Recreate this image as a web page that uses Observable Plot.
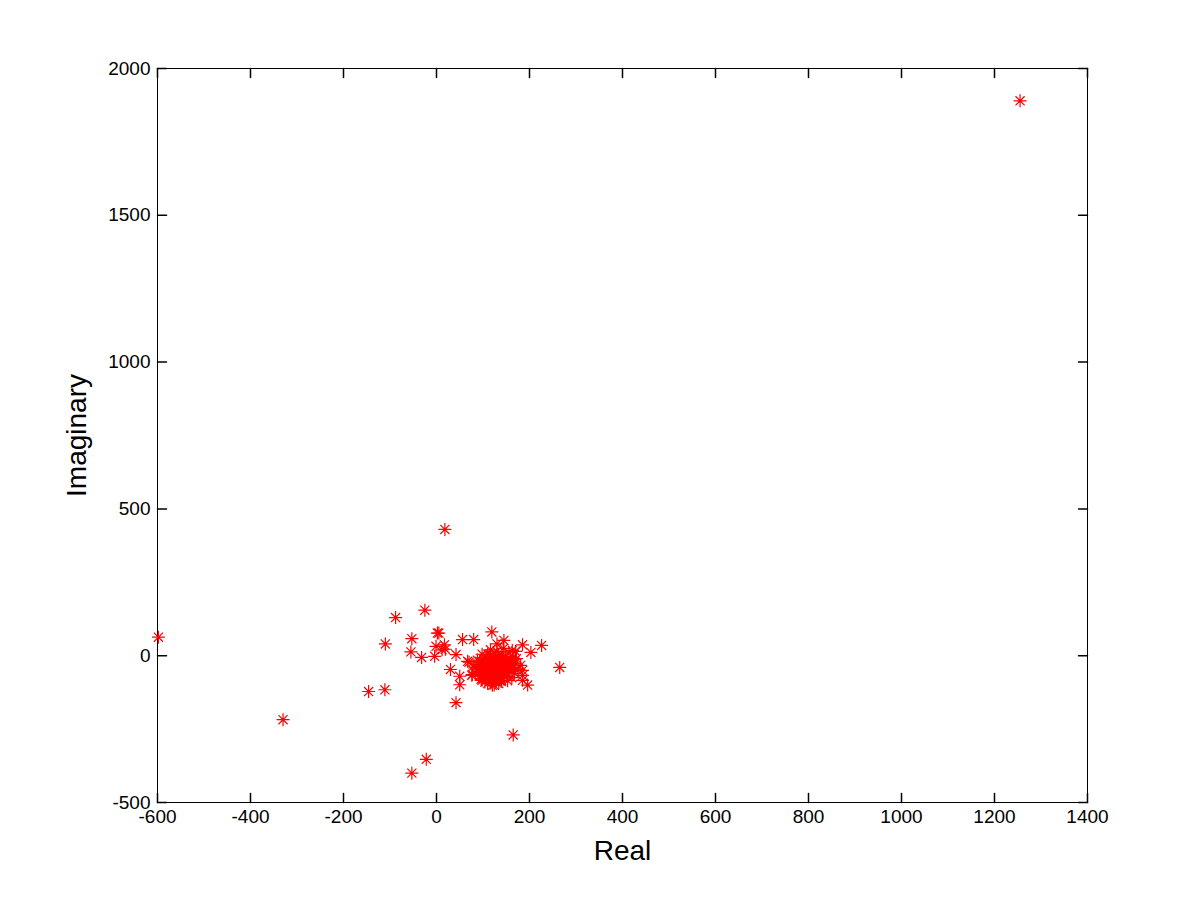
<!DOCTYPE html>
<html>
<head>
<meta charset="utf-8">
<script src="https://cdn.jsdelivr.net/npm/d3@7"></script>
<script src="https://cdn.jsdelivr.net/npm/@observablehq/plot@0.6"></script>
<style>
  html, body { margin: 0; padding: 0; background: #fff; }
  #chart { width: 1201px; height: 901px; }
</style>
</head>
<body>
<div id="chart"></div>
<script>
// Axis limits and ticks
const xDomain = [-600, 1400];
const yDomain = [-500, 2000];
const xTicks = [-600, -400, -200, 0, 200, 400, 600, 800, 1000, 1200, 1400];
const yTicks = [-500, 0, 500, 1000, 1500, 2000];
const xLabel = "Real";
const yLabel = "Imaginary";

// Real parts of the plotted values
const realParts = [
  1255, -598, -330, 18, -146, -111, -110, -88, -25, -53, -22, 165, 265, 42,
  -53, 2, 5, -55, -32, -4, -1, 12, 17, 19, 42, 56, 80, 119, 145, 30, 50, 50,
  76, 70, 185, 226, 203, 196, 185, 185, 185, 181, 67, 77, 120, 130, 170, 98,
  95, 100, 102, 105, 108, 110, 110, 112, 114, 115, 117, 118, 120, 120, 122, 123,
  125, 126, 127, 128, 130, 130, 132, 133, 135, 136, 138, 140, 140, 142, 143, 145,
  146, 148, 150, 150, 152, 155, 156, 158, 160, 162, 165, 165, 168, 170, 90, 88,
  92, 85, 98, 104, 116, 124, 134, 144, 153, 175, 172, 96, 106, 119, 131, 137,
  147, 113, 127, 141, 157, 102, 80, 83, 163, 110,
  93, 99, 101, 107, 109, 111, 116, 118, 121, 124, 126, 129, 131, 134, 137, 139,
  142, 144, 149, 151, 154, 159, 161, 104, 115, 128, 139, 152, 97, 133, 146, 122
];
// Imaginary parts of the plotted values
const imagParts = [
  1890, 63, -218, 430, -122, -116, 40, 130, 155, -400, -353, -270, -40, -160,
  58, 77, 77, 13, -6, -2, 32, 20, 37, 22, 4, 55, 55, 81, 52, -47, -70, -99,
  -67, -22, 37, 35, 11, -100, -84, -67, -50, -33, -19, -64, -101, 40, 15, -84,
  -30, -45, -10, -60, -25, 5, -75, -40, -15, -55, -85, -30, 0, -65, -45, -20,
  -90, -5, -55, -35, -75, 15, -25, -50, -10, -65, -40, -85, 5, -20, -55, -30,
  -70, -5, -45, -15, -60, -30, 10, -50, -20, -75, -5, -40, -60, -25, -55, -15,
  -70, -40, 5, -90, 20, -100, -95, 25, -85, -45, -10, -80, -35, -50, -60, -28,
  -50, -70, -12, -42, -38, -20, -35, -58, 18, -95,
  -20, -65, -50, -8, -48, -28, -38, -78, -12, -58, -30, -68, -42, -22, -52, -72,
  -8, -62, -25, -35, -48, -12, -32, -72, 2, -82, -88, -70, -38, -2, -18, -80
];

const points = realParts.map((re, i) => ({re, im: imagParts[i]}));

// MATLAB-like '*' marker
const asterisk = {
  draw(ctx, size) {
    const r = Math.sqrt(size / Math.PI);
    const d = r * 0.7;
    ctx.moveTo(-r, 0); ctx.lineTo(r, 0);
    ctx.moveTo(0, -r); ctx.lineTo(0, r);
    ctx.moveTo(-d, -d); ctx.lineTo(d, d);
    ctx.moveTo(-d, d); ctx.lineTo(d, -d);
  }
};
// straight tick line for vector marks
const tickLine = {
  draw(ctx, l) { ctx.moveTo(0, 0); ctx.lineTo(0, -l); }
};

const chart = Plot.plot({
  width: 1201,
  height: 901,
  marginLeft: 157,
  marginRight: 114,
  marginTop: 68,
  marginBottom: 99,
  style: {fontFamily: "'Liberation Sans', Arial, Helvetica, sans-serif", fontSize: "19px", color: "black", background: "white"},
  x: {domain: xDomain},
  y: {domain: yDomain},
  marks: [
    Plot.frame({stroke: "black", strokeWidth: 1}),
    Plot.axisX({ticks: xTicks, tickSize: 0, tickPadding: 7, label: null, fontSize: 19, tickFormat: d => String(d)}),
    Plot.axisY({ticks: yTicks, tickSize: 0, tickPadding: 7, label: null, fontSize: 19, tickFormat: d => String(d)}),
    Plot.vector(xTicks, {x: d => d, y: yDomain[0], length: 9, rotate: 0, anchor: "start", shape: tickLine, stroke: "black"}),
    Plot.vector(xTicks, {x: d => d, y: yDomain[1], length: 9, rotate: 180, anchor: "start", shape: tickLine, stroke: "black"}),
    Plot.vector(yTicks, {y: d => d, x: xDomain[0], length: 9, rotate: 90, anchor: "start", shape: tickLine, stroke: "black"}),
    Plot.vector(yTicks, {y: d => d, x: xDomain[1], length: 9, rotate: -90, anchor: "start", shape: tickLine, stroke: "black"}),
    Plot.text([xLabel], {frameAnchor: "bottom", dy: 57, text: d => d, fontSize: 28, fill: "black"}),
    Plot.text([yLabel], {frameAnchor: "left", dx: -80, rotate: -90, textAnchor: "middle", text: d => d, fontSize: 28, fill: "black"}),
    Plot.dot(points, {x: "re", y: "im", symbol: asterisk, r: 6.5, stroke: "red", fill: "none", strokeWidth: 1.2})
  ]
});
document.getElementById("chart").appendChild(chart);
</script>
</body>
</html>
